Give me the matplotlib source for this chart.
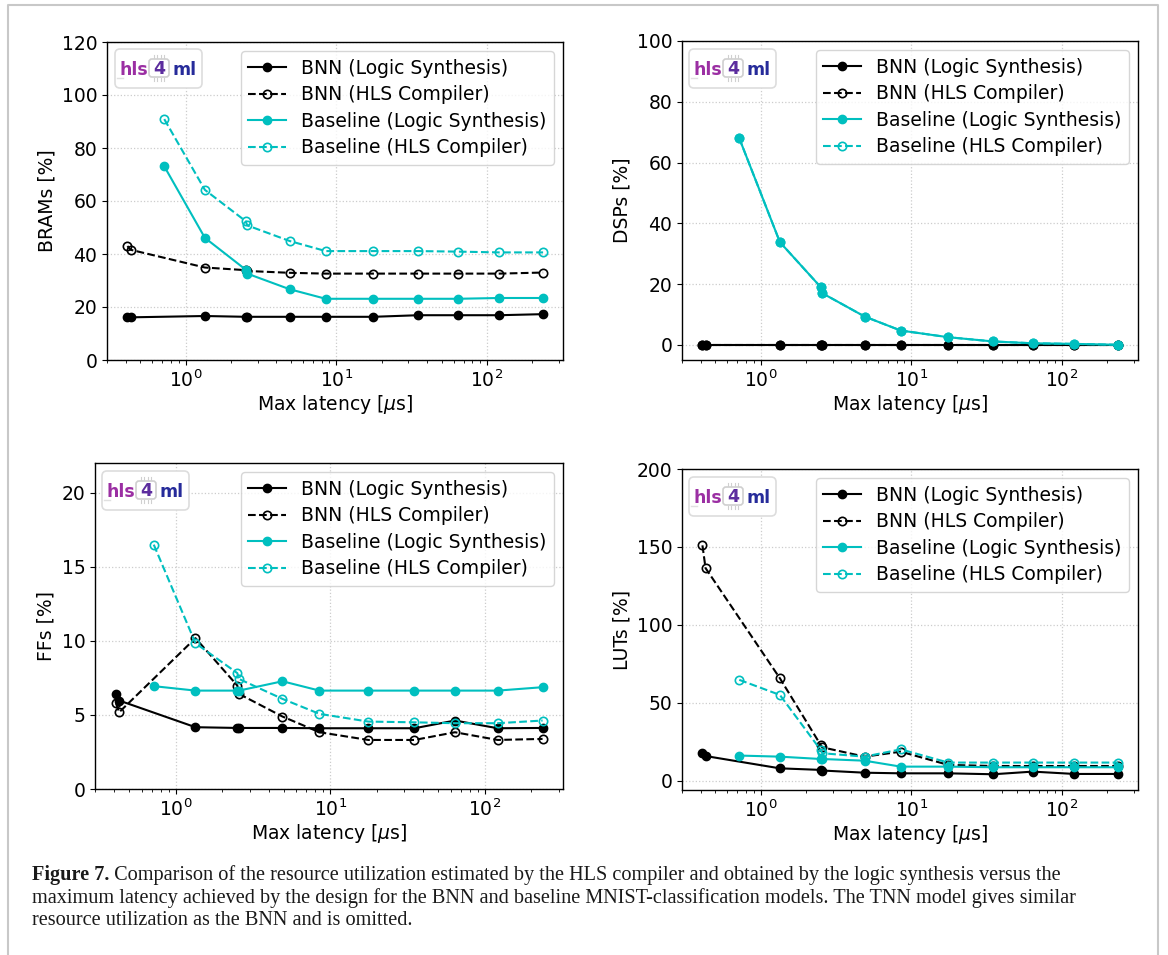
import matplotlib
matplotlib.use('Agg')
import matplotlib.pyplot as plt
import matplotlib.transforms as mtransforms
from matplotlib.patches import FancyBboxPatch
from matplotlib.lines import Line2D

# ---------------- data ----------------
lat_bnn = [0.41, 0.43, 1.34, 2.50, 2.56, 4.9, 8.5, 17.6, 35, 64, 121, 236]
lat_base = [0.72, 1.34, 2.50, 2.56, 4.9, 8.5, 17.6, 35, 64, 121, 236]

bram_bnn_ls = [16.1, 16.1, 16.6, 16.3, 16.3, 16.3, 16.3, 16.3, 16.9, 16.9, 16.9, 17.3]
bram_bnn_hls = [43.0, 41.6, 34.9, 33.9, 33.6, 32.9, 32.6, 32.6, 32.6, 32.6, 32.6, 33.0]
bram_base_ls = [73.1, 46.1, 34.1, 32.6, 26.7, 23.1, 23.1, 23.1, 23.1, 23.4, 23.4]
bram_base_hls = [90.9, 64.2, 52.4, 50.8, 44.9, 41.1, 41.1, 41.1, 40.9, 40.6, 40.6]

dsp_bnn_ls = [0.0] * 12
dsp_bnn_hls = [0.0] * 12
dsp_base_ls = [68.0, 33.8, 19.0, 17.0, 9.3, 4.7, 2.5, 1.1, 0.5, 0.3, 0.0]
dsp_base_hls = [68.0, 33.8, 19.0, 17.0, 9.3, 4.7, 2.5, 1.1, 0.5, 0.3, 0.0]

ff_bnn_ls = [6.42, 5.97, 4.17, 4.12, 4.12, 4.12, 4.10, 4.10, 4.10, 4.62, 4.10, 4.12]
ff_bnn_hls = [5.79, 5.18, 10.18, 6.98, 6.42, 4.89, 3.83, 3.31, 3.31, 3.83, 3.31, 3.38]
ff_base_ls = [6.94, 6.64, 6.64, 6.64, 7.27, 6.64, 6.64, 6.64, 6.64, 6.64, 6.87]
ff_base_hls = [16.49, 9.84, 7.82, 7.43, 6.08, 5.07, 4.55, 4.50, 4.44, 4.44, 4.62]

lut_bnn_ls = [17.6, 15.8, 7.9, 6.9, 6.5, 5.1, 4.7, 4.7, 4.1, 5.8, 4.3, 4.3]
lut_bnn_hls = [151.0, 136.4, 65.7, 22.9, 21.4, 15.4, 18.6, 10.1, 9.4, 9.4, 9.4, 9.4]
lut_base_ls = [16.1, 15.4, 13.9, 13.9, 12.8, 9.0, 9.0, 8.6, 8.6, 8.6, 8.6]
lut_base_hls = [64.7, 55.0, 19.7, 17.6, 15.4, 20.1, 11.6, 11.6, 11.6, 11.6, 11.6]

series_labels = ['BNN (Logic Synthesis)', 'BNN (HLS Compiler)',
                 'Baseline (Logic Synthesis)', 'Baseline (HLS Compiler)']

caption_bold = 'Figure 7.'
caption_lines = [
    ' Comparison of the resource utilization estimated by the HLS compiler and obtained by the logic synthesis versus the',
    'maximum latency achieved by the design for the BNN and baseline MNIST-classification models. The TNN model gives similar',
    'resource utilization as the BNN and is omitted.',
]

# ---------------- figure ----------------
W, H = 1168, 955
plt.rcParams.update({'font.family': 'DejaVu Sans', 'font.size': 13.5,
                     'axes.linewidth': 1.0})
fig = plt.figure(figsize=(W / 100, H / 100), dpi=100)
fig.patch.set_facecolor('white')

# pixel coords (from top-left) -> figure fraction
pix = mtransforms.Affine2D().scale(1 / W, -1 / H).translate(0, 1) + fig.transFigure


def add_ax(x0, y0, x1, y1):
    return fig.add_axes([x0 / W, 1 - y1 / H, (x1 - x0) / W, (y1 - y0) / H])


def draw_logo(x0, y0):
    # hls4ml badge, top-left corner at (x0, y0) in pixels
    fig.add_artist(FancyBboxPatch((x0, y0), 87, 39, transform=pix,
                                  boxstyle='round,pad=0,rounding_size=5',
                                  fc='white', ec='#dddddd', lw=1.2, zorder=5))
    fig.add_artist(Line2D([x0 + 2, x0 + 8], [y0 + 29, y0 + 29], transform=pix,
                          color='#e0e0e0', lw=1, zorder=5))
    fig.add_artist(FancyBboxPatch((x0 + 34, y0 + 10), 20, 18, transform=pix,
                                  boxstyle='round,pad=0,rounding_size=3',
                                  fc='white', ec='#cfcfcf', lw=1.2, zorder=6))
    for k in range(4):
        xx = x0 + 39 + k * 3.3
        fig.add_artist(Line2D([xx, xx], [y0 + 6, y0 + 9], transform=pix,
                              color='#d0d0d0', lw=0.8, zorder=6))
        fig.add_artist(Line2D([xx, xx], [y0 + 29, y0 + 32], transform=pix,
                              color='#d0d0d0', lw=0.8, zorder=6))
    fig.text(x0 + 19, y0 + 21, 'hls', transform=pix, ha='center', va='center',
             fontsize=12.5, fontweight='bold', color='#9b2fa3', zorder=7)
    fig.text(x0 + 44, y0 + 20, '4', transform=pix, ha='center', va='center',
             fontsize=12.5, fontweight='bold', color='#5c2d9e', zorder=7)
    fig.text(x0 + 70, y0 + 21, 'ml', transform=pix, ha='center', va='center',
             fontsize=12.5, fontweight='bold', color='#262b9a', zorder=7)


def panel(ax, ylab, data, ylim, yticks):
    bnn_ls, bnn_hls, base_ls, base_hls = data
    ax.plot(lat_bnn, bnn_ls, '-o', color='black', lw=1.5, ms=6, label=series_labels[0])
    ax.plot(lat_bnn, bnn_hls, '--o', color='black', lw=1.5, ms=6, mfc='none',
            mew=1.2, label=series_labels[1])
    ax.plot(lat_base, base_ls, '-o', color='c', lw=1.5, ms=6, label=series_labels[2])
    ax.plot(lat_base, base_hls, '--o', color='c', lw=1.5, ms=6, mfc='none',
            mew=1.2, label=series_labels[3])
    ax.set_xscale('log')
    ax.set_xlim(0.3, 320)
    ax.set_ylim(*ylim)
    ax.set_yticks(yticks)
    ax.grid(True, which='major', ls=':', color='#cccccc', lw=0.9)
    ax.set_xlabel(r'Max latency [$\mu$s]', labelpad=1)
    ax.set_ylabel(ylab)
    ax.legend(loc='upper right', labelspacing=0.4)


ax1 = add_ax(107, 42, 563, 360)
panel(ax1, 'BRAMs [%]', (bram_bnn_ls, bram_bnn_hls, bram_base_ls, bram_base_hls),
      (0, 120), range(0, 121, 20))
ax2 = add_ax(682, 41, 1138, 360)
panel(ax2, 'DSPs [%]', (dsp_bnn_ls, dsp_bnn_hls, dsp_base_ls, dsp_base_hls),
      (-5, 100), range(0, 101, 20))
ax3 = add_ax(95, 463, 563, 789)
panel(ax3, 'FFs [%]', (ff_bnn_ls, ff_bnn_hls, ff_base_ls, ff_base_hls),
      (0, 22), range(0, 21, 5))
ax4 = add_ax(682, 469, 1138, 790)
panel(ax4, 'LUTs [%]', (lut_bnn_ls, lut_bnn_hls, lut_base_ls, lut_base_hls),
      (-6, 200), range(0, 201, 50))

draw_logo(115, 49)
draw_logo(689, 49)
draw_logo(102, 471)
draw_logo(689, 477)

# page frame
fig.add_artist(Line2D([8, 8, 1158, 1158], [960, 5, 5, 960], transform=pix,
                      color='#c8c8c8', lw=1.5))

# caption
cap_font = dict(family='Liberation Serif', fontsize=14.6, color='#1a1a1a')
t = fig.text(32, 880, caption_bold, transform=pix, va='baseline',
             fontweight='bold', **cap_font)
fig.canvas.draw()
bb = t.get_window_extent()
fig.text(bb.x1 / W, 1 - 880 / H, caption_lines[0], va='baseline', **cap_font)
fig.text(32, 902.5, caption_lines[1], transform=pix, va='baseline', **cap_font)
fig.text(32, 925, caption_lines[2], transform=pix, va='baseline', **cap_font)

fig.savefig('out.png', dpi=100)
